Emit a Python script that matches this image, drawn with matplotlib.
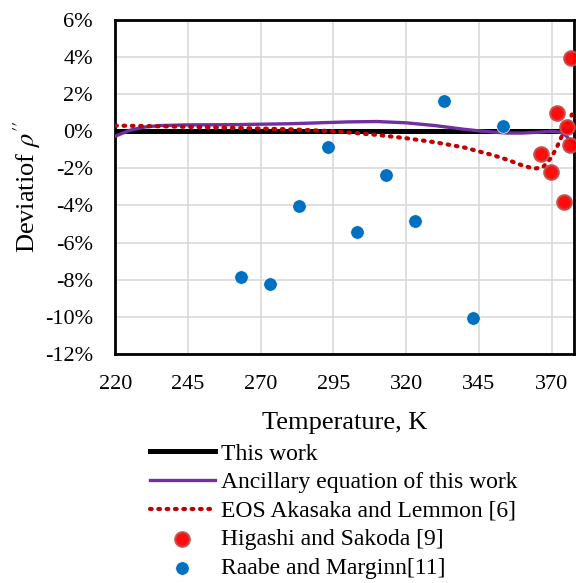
import matplotlib
matplotlib.use("Agg")
import matplotlib.pyplot as plt
import numpy as np
from matplotlib.ticker import FuncFormatter

plt.rcParams['font.family'] = ['Liberation Serif', 'DejaVu Serif']
plt.rcParams['mathtext.fontset'] = 'stix'

# Data
raabe_T = [263.15, 273.15, 283.15, 293.15, 303.15, 313.15, 323.15, 333.15, 343.15, 353.15]
raabe_dev = [-7.87, -8.22, -4.05, -0.86, -5.41, -2.38, -4.84, 1.65, -10.09, 0.27]

higashi_T = [366.4, 369.7, 371.7, 374.2, 375.3, 376.3, 376.7]
higashi_dev = [-1.22, -2.18, 0.97, -3.83, 0.20, -0.72, 3.96]

anc_T = [220, 225, 230, 235, 245, 260, 280, 300, 310, 320, 330, 340, 345, 350, 355, 360, 365, 370, 373, 375, 377]
anc_dev = [-0.27, 0.05, 0.22, 0.30, 0.34, 0.35, 0.40, 0.50, 0.52, 0.45, 0.30, 0.10, 0.02, -0.05, -0.10, -0.10, -0.06, -0.01, -0.05, -0.25, -0.60]

eos_T = [220, 240, 260, 280, 295, 310, 320, 330, 340, 350, 355, 360, 364, 367, 370, 372, 374, 375.5, 377]
eos_dev = [0.30, 0.25, 0.18, 0.10, 0.0, -0.20, -0.38, -0.60, -0.88, -1.30, -1.55, -1.85, -2.02, -1.95, -1.40, -0.80, -0.10, 0.40, 0.90]

xticks = [220, 245, 270, 295, 320, 345, 370]
yticks = [6, 4, 2, 0, -2, -4, -6, -8, -10, -12]

fig = plt.figure(figsize=(5.76, 5.83), dpi=100)
ax = fig.add_axes([0.2, 0.393, 0.797, 0.573])

ax.grid(True, color='#d9d9d9', linewidth=1.2, zorder=0)
ax.axhline(0, color='black', linewidth=3.6, zorder=2, label='This work')
ax.plot(anc_T, anc_dev, color='#7030a0', linewidth=2.4, zorder=3, label='Ancillary equation of this work')
ax.plot(eos_T, eos_dev, color='#c00000', linewidth=3.0, linestyle=(0, (0.4, 1.6)), dash_capstyle='round', zorder=3,
        label='EOS Akasaka and Lemmon [6]')
ax.scatter(higashi_T, higashi_dev, s=110, color='#ff0000', edgecolors='#c0504d', linewidths=1.5, alpha=0.95, zorder=4,
           label='Higashi and Sakoda [9]', clip_on=False)
ax.scatter(raabe_T, raabe_dev, s=95, color='#0070c0', edgecolors='white', linewidths=0.5, zorder=4,
           label='Raabe and Marginn[11]')

ax.set_xlim(220, 377.8)
ax.set_ylim(-12, 6)
ax.set_xticks(xticks)
ax.set_yticks(yticks)
ax.yaxis.set_major_formatter(FuncFormatter(lambda v, p: f"{int(round(v))}%"))
ax.tick_params(length=0, labelsize=16)
ax.tick_params(axis='x', pad=15)
ax.tick_params(axis='y', pad=16)
for s in ax.spines.values():
    s.set_linewidth(2)
    s.set_color('black')
ax.set_axisbelow(True)

ax.set_xlabel('Temperature, K', fontsize=19, labelpad=13)
ax.set_ylabel(r"Deviatiof $\rho''$", fontsize=19, labelpad=1)

leg = fig.legend(*ax.get_legend_handles_labels(), loc='upper left', bbox_to_anchor=(0.26, 0.24), frameon=False,
                 fontsize=17, handlelength=2.75, handletextpad=0.25, labelspacing=0.30, borderpad=0,
                 borderaxespad=0)

fig.savefig('out.png', dpi=100)
